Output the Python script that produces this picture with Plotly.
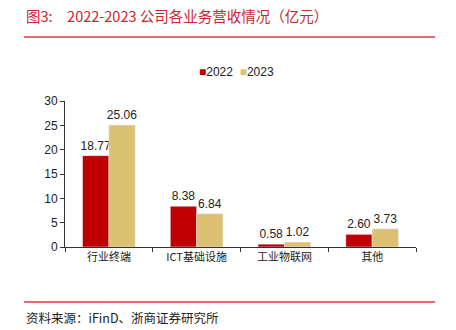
import plotly.graph_objects as go

categories = ["行业终端", "ICT基础设施", "工业物联网", "其他"]
v2022 = [18.77, 8.38, 0.58, 2.60]
v2023 = [25.06, 6.84, 1.02, 3.73]
labels2022 = ["18.77", "8.38", "0.58", "2.60"]
labels2023 = ["25.06", "6.84", "1.02", "3.73"]
c2022 = "#C00000"
c2023 = "#DCC174"

L, R, T, B = 65, 40, 101, 83
W, H = 456, 330
pw, ph = W - L - R, H - T - B

def px(x):
    return (x - L) / pw

def py(y):
    return (H - B - y) / ph

fig = go.Figure()
fig.add_bar(x=categories, y=v2022, name="2022", marker_color=c2022,
            text=labels2022, textposition="outside", cliponaxis=False,
            constraintext="none",
            textfont=dict(size=12, color="#222", family="Liberation Sans, Arial"))
fig.add_bar(x=categories, y=v2023, name="2023", marker_color=c2023,
            text=labels2023, textposition="outside", cliponaxis=False,
            constraintext="none",
            textfont=dict(size=12, color="#222", family="Liberation Sans, Arial"))

fig.update_layout(
    width=W, height=H,
    margin=dict(l=L, r=R, t=T, b=B),
    paper_bgcolor="white", plot_bgcolor="white",
    barmode="group", bargap=0.4, bargroupgap=0,
    font=dict(family="Liberation Sans, Arial", size=11, color="#222"),
    showlegend=False,
)
fig.update_yaxes(range=[0, 30], dtick=5, showgrid=False, zeroline=False,
                 showline=True, linecolor="#333", linewidth=1,
                 ticks="outside", ticklen=4, tickcolor="#333",
                 tickfont=dict(size=12, family="Liberation Sans, Arial"))
fig.update_xaxes(showline=True, linecolor="#333", linewidth=1,
                 ticks="outside", ticklen=4, tickcolor="#333", tickson="boundaries",
                 tickfont=dict(size=11, family="Noto Sans CJK SC"))

red = "#E0393E"
fig.add_shape(type="line", xref="paper", yref="paper", x0=px(24), x1=px(435),
              y0=py(37), y1=py(37), line=dict(color=red, width=1.5))
fig.add_shape(type="line", xref="paper", yref="paper", x0=px(24), x1=px(435),
              y0=py(302), y1=py(302), line=dict(color=red, width=1.5))

# legend
fig.add_annotation(xref="paper", yref="paper", x=px(197), y=py(72), xanchor="left",
                   yanchor="middle", showarrow=False,
                   text=(f'<span style="color:{c2022}">■</span>2022  '
                         f'<span style="color:{c2023}">■</span>2023'),
                   font=dict(size=12, color="#222", family="Liberation Sans, Arial"))

fig.add_annotation(xref="paper", yref="paper", x=px(24), y=py(15), xanchor="left",
                   yanchor="middle", showarrow=False,
                   text="图3:\u30002022-2023 公司各业务营收情况（亿元）",
                   font=dict(size=14.5, color="#C8282D", family="Noto Sans CJK SC"))
fig.add_annotation(xref="paper", yref="paper", x=px(24), y=py(317), xanchor="left",
                   yanchor="middle", showarrow=False,
                   text="资料来源：iFinD、浙商证券研究所",
                   font=dict(size=12.5, color="#222", family="Noto Sans CJK SC"))

fig.write_html("out.html")
